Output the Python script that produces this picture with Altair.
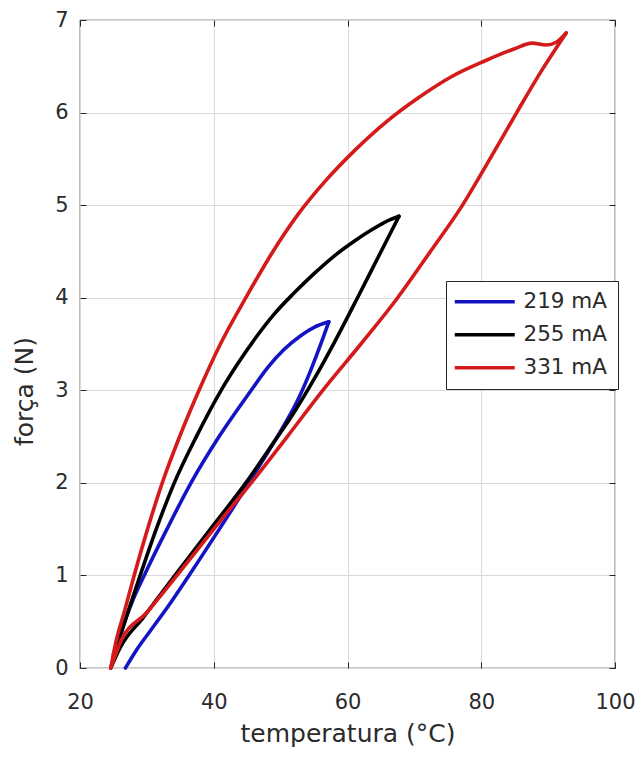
import altair as alt
import pandas as pd

series = ["219 mA", "255 mA", "331 mA"]
colors = ["#1414c4", "#000000", "#d41a1a"]

# 219 mA loop (temperature °C, force N): heating branch then cooling branch
t_219 = [25.0, 26.5, 28.0, 29.6, 33.0, 36.6, 40.8, 45.6, 48.0, 50.5, 53.0, 55.0, 57.2,
         55.8, 54.3, 52.6, 50.5, 48.0, 45.0, 41.1, 36.3, 33.5, 30.5, 28.5, 26.8]
f_219 = [0.15, 0.47, 0.75, 1.0, 1.5, 2.0, 2.5, 3.0, 3.24, 3.44, 3.59, 3.68, 3.74,
         3.46, 3.18, 2.9, 2.62, 2.32, 1.97, 1.53, 1.0, 0.7, 0.4, 0.2, 0.0]

# 255 mA loop
t_255 = [24.6, 26.5, 29.0, 31.4, 34.1, 37.4, 41.1, 43.7, 46.3, 49.0, 52.0, 55.0,
         58.0, 61.0, 64.0, 66.3, 67.7,
         64.6, 61.5, 58.2, 55.0, 52.0, 49.0, 44.8, 39.5, 34.2, 29.5, 26.0, 24.6]
f_255 = [0.0, 0.45, 1.0, 1.5, 2.0, 2.5, 3.0, 3.3, 3.57, 3.82, 4.05, 4.26,
         4.45, 4.61, 4.75, 4.84, 4.88,
         4.44, 4.0, 3.54, 3.12, 2.76, 2.44, 2.0, 1.5, 1.0, 0.55, 0.22, 0.0]

# 331 mA loop
t_331 = [24.6, 25.4, 26.6, 28.1, 30.1, 32.3, 34.9, 37.8, 41.0, 44.8, 48.6, 52.6,
         56.8, 61.2, 65.8, 70.6, 75.6, 80.6, 85.0, 87.6, 89.7, 91.2, 92.7,
         89.0, 85.3, 81.3, 77.2, 72.4, 67.5, 62.0, 56.3, 51.0, 45.6, 40.0, 34.5,
         30.0, 26.1, 25.2, 24.6]
f_331 = [0.0, 0.29, 0.6, 1.0, 1.5, 2.0, 2.5, 3.0, 3.5, 4.0, 4.47, 4.9,
         5.27, 5.6, 5.9, 6.16, 6.39, 6.56, 6.69, 6.75, 6.73, 6.76, 6.86,
         6.45, 6.0, 5.5, 5.0, 4.5, 4.0, 3.5, 3.0, 2.5, 2.0, 1.5, 1.0,
         0.6, 0.29, 0.12, 0.0]

x_ticks = [20, 40, 60, 80, 100]
y_ticks = [0, 1, 2, 3, 4, 5, 6, 7]

rows = []
for name, ts, fs in [(series[0], t_219, f_219), (series[1], t_255, f_255), (series[2], t_331, f_331)]:
    k = ts.index(max(ts))  # turning point between heating and cooling
    for branch, idx in (("aquec", range(0, k + 1)), ("resfr", range(k, len(ts)))):
        for i in idx:
            rows.append({"serie": name, "grp": name + " " + branch, "T": ts[i], "F": fs[i]})
df = pd.DataFrame(rows)

FONT = "DejaVu Sans"
TXT = "#2b2b2b"
xs = alt.Scale(domain=[20, 100], nice=False, zero=False)
ys = alt.Scale(domain=[0, 7], nice=False, zero=False)

base = alt.Chart(df)

lines = base.mark_line(strokeWidth=3.6, strokeJoin="round", strokeCap="round",
                       interpolate="monotone").encode(
    x=alt.X("T:Q", scale=xs, axis=alt.Axis(values=x_ticks, grid=True, labels=False, ticks=False,
                                           domain=False, title=None, gridColor="#d9d9d9", gridWidth=1)),
    y=alt.Y("F:Q", scale=ys, axis=alt.Axis(values=y_ticks, grid=True, labels=False, ticks=False,
                                           domain=False, title=None, gridColor="#d9d9d9", gridWidth=1)),
    color=alt.Color("serie:N", scale=alt.Scale(domain=series, range=colors),
                    legend=alt.Legend(title=None, orient="none", legendX=366, legendY=261,
                                      strokeColor="#262626", fillColor="white", padding=10,
                                      symbolType="M-2,0H8", symbolSize=144, symbolStrokeWidth=3.6,
                                      labelFont=FONT, labelFontSize=21.5, labelColor=TXT,
                                      rowPadding=10, labelOffset=46, cornerRadius=0)),
    detail="grp:N",
    order="T:Q",
)

main_axes = base.mark_line(opacity=0).encode(
    x=alt.X("T:Q", scale=xs, axis=alt.Axis(values=x_ticks, orient="bottom", grid=False, domain=False,
                                           offset=-6, tickSize=6, tickColor="#262626",
                                           labelFont=FONT, labelFontSize=21, labelColor=TXT,
                                           labelPadding=23, labelFlush=False, title="temperatura (°C)",
                                           titleFont=FONT, titleFontSize=25, titleFontWeight="normal",
                                           titleColor=TXT, titleBaseline="alphabetic", titleY=79)),
    y=alt.Y("F:Q", scale=ys, axis=alt.Axis(values=y_ticks, orient="left", grid=False, domain=False,
                                           offset=-6, tickSize=6, tickColor="#262626",
                                           labelFont=FONT, labelFontSize=21, labelColor=TXT,
                                           labelPadding=12, labelFlush=False, title="força (N)",
                                           titleFont=FONT, titleFontSize=25, titleFontWeight="normal",
                                           titleColor=TXT, titleBaseline="alphabetic",
                                           titleX=-54, titleY=371, titleAngle=270)),
    detail="grp:N",
    order="T:Q",
)

mirror_axes = base.mark_line(opacity=0).encode(
    x=alt.X("T:Q", scale=xs, axis=alt.Axis(values=x_ticks, orient="top", grid=False, domain=False,
                                           offset=-6, tickSize=6, tickColor="#262626",
                                           labels=False, title=None)),
    y=alt.Y("F:Q", scale=ys, axis=alt.Axis(values=y_ticks, orient="right", grid=False, domain=False,
                                           offset=-6, tickSize=6, tickColor="#262626",
                                           labels=False, title=None)),
    detail="grp:N",
    order="T:Q",
)

chart = alt.layer(lines, main_axes, mirror_axes).resolve_axis(
    x="independent", y="independent"
).properties(
    width=535, height=648,
    padding={"left": 72, "top": 12, "right": 20, "bottom": 80},
    autosize=alt.AutoSizeParams(type="none"),
    background="white",
).configure_view(stroke="#262626", strokeWidth=1.2)

chart.save("out.html", embed_options={"renderer": "svg", "actions": False})
